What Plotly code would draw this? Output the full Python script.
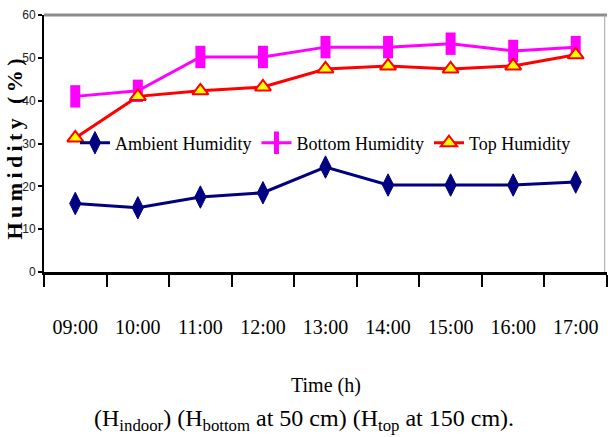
import plotly.graph_objects as go

times = ["09:00", "10:00", "11:00", "12:00", "13:00", "14:00", "15:00", "16:00", "17:00"]
ambient = [16.0, 15.0, 17.5, 18.5, 24.5, 20.3, 20.3, 20.3, 21.0]
bottom = [41.0, 42.3, 50.2, 50.2, 52.5, 52.5, 53.3, 51.6, 52.5]
top = [31.3, 41.0, 42.3, 43.2, 47.4, 48.1, 47.4, 48.1, 50.7]

serif = "Liberation Serif, Times New Roman, serif"
narrow = "Liberation Sans Narrow, Arial Narrow, Liberation Sans, sans-serif"

fig = go.Figure()
fig.add_trace(go.Scatter(
    x=times, y=ambient, name="Ambient Humidity", mode="lines+markers",
    line=dict(color="#000080", width=3),
    marker=dict(symbol="diamond-tall", size=16, color="#000080",
                line=dict(color="#000080", width=1)),
))
fig.add_trace(go.Scatter(
    x=times, y=bottom, name="Bottom Humidity", mode="lines+markers",
    line=dict(color="#FF00FF", width=3),
    marker=dict(symbol="line-ns", size=16, color="#FF00FF",
                line=dict(color="#FF00FF", width=10)),
))
fig.add_trace(go.Scatter(
    x=times, y=top, name="Top Humidity", mode="lines+markers",
    line=dict(color="#FF0000", width=3),
    marker=dict(symbol="triangle-up", size=14, color="#FFFF00",
                line=dict(color="#FF0000", width=2)),
))

ytitle = "\u2009".join(list("Humidity")) + "\u2009 \u2009" + "\u2009".join(list("(%)"))

fig.update_layout(
    width=608, height=437,
    margin=dict(l=44, r=1, t=15, b=165),
    paper_bgcolor="white", plot_bgcolor="white",
    showlegend=True,
    legend=dict(orientation="h", x=0.055, y=0.502, xanchor="left", yanchor="middle",
                bgcolor="rgba(0,0,0,0)", font=dict(family=serif, size=18, color="black"),
                itemwidth=30, tracegroupgap=0),
    xaxis=dict(type="category", range=[-0.5, 8.5], tickson="boundaries",
               ticks="outside", ticklen=12, tickwidth=2, tickcolor="black",
               showline=True, linecolor="black", linewidth=3,
               showgrid=False, zeroline=False,
               tickfont=dict(family=serif, size=20, color="black"),
               ticklabelstandoff=35),
    yaxis=dict(range=[0, 60], dtick=10, ticks="outside", ticklen=4, tickwidth=2,
               tickcolor="black", showline=True, linecolor="black", linewidth=2,
               showgrid=False, zeroline=False,
               tickfont=dict(family=narrow, size=12, color="#222")),
    annotations=[
        dict(text=ytitle, xref="paper", yref="paper", x=(14 - 44) / 563, y=0.5,
             yshift=-6,
             xanchor="center", yanchor="middle", textangle=-90, showarrow=False,
             font=dict(family=serif, size=22, color="black", weight="bold")),
        dict(text="Time (h)", xref="paper", yref="paper", x=0.5, y=0, yshift=-113,
             xanchor="center", yanchor="middle", showarrow=False,
             font=dict(family=serif, size=20, color="black")),
        dict(text="(H<sub>indoor</sub>) (H<sub>bottom</sub> at 50 cm) (H<sub>top</sub> at 150 cm).",
             xref="paper", yref="paper", x=(304 - 44) / 563, y=0, yshift=-148,
             xanchor="center", yanchor="middle", showarrow=False,
             font=dict(family=serif, size=24, color="black")),
    ],
    shapes=[
        dict(type="line", xref="paper", yref="paper", x0=0, x1=1, y0=1, y1=1,
             line=dict(color="#8c8c8c", width=3)),
        dict(type="line", xref="paper", yref="paper", x0=0.996, x1=0.996, y0=0, y1=1,
             line=dict(color="#a0a0a0", width=1)),
    ],
)

fig.write_html("out.html")
